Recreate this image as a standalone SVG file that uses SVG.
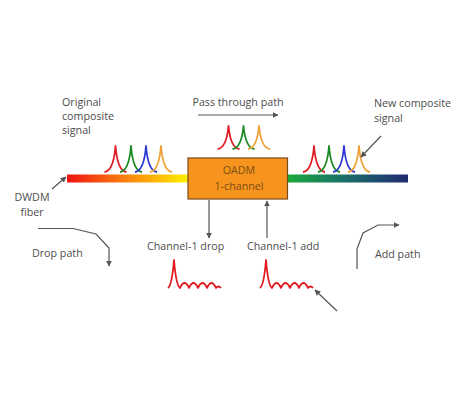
<svg xmlns="http://www.w3.org/2000/svg" width="464" height="400" viewBox="0 0 464 400">
<style>
text{font-family:"Open Sans","Liberation Sans",sans-serif;font-size:10.7px;fill:#4d4d4d}
.box-t{fill:#7d4c14;text-anchor:middle}
.ln{fill:none;stroke:#555;stroke-width:1.2}
.pk{fill:none;stroke-width:1.8;stroke-linejoin:round}
.r{stroke:#e01b22}.g{stroke:#1c8a22}.b{stroke:#2b3bd2}.o{stroke:#eea236}
</style>
<defs>
<marker id="ah" viewBox="0 0 10 10" refX="9" refY="5" markerWidth="6" markerHeight="6" markerUnits="userSpaceOnUse" orient="auto">
<path d="M0,0 L10,5 L0,10 z" fill="#555"/>
</marker>
<linearGradient id="gl" x1="0" x2="1" y1="0" y2="0">
<stop offset="0" stop-color="#ee1111"/>
<stop offset="0.45" stop-color="#fa7a10"/>
<stop offset="1" stop-color="#fff000"/>
</linearGradient>
<linearGradient id="gr" x1="0" x2="1" y1="0" y2="0">
<stop offset="0" stop-color="#1aaa3a"/>
<stop offset="0.45" stop-color="#1a7268"/>
<stop offset="1" stop-color="#202a70"/>
</linearGradient>
<path id="pk" d="M-11,0 Q-2,-1 0,-26 Q2,-1 11,0"/>
<path id="pks" d="M-11,0 Q-2,-1 0,-23 Q2,-1 11,0"/>
<path id="sig" d="M0,28 Q4,25 6,0 Q8,25 12,28 Q16.5,18 21,28 Q25.5,18 30,28 Q34.5,18 39,28 Q43.5,18 48,28 Q50.5,25 53,28"/>
</defs>

<g id="fiber-left"><rect x="67" y="174.5" width="121" height="8" fill="url(#gl)"/></g>
<g id="fiber-right"><rect x="287" y="174.5" width="121" height="8" fill="url(#gr)"/></g>

<g id="original-signal">
<use href="#pk" x="115.5" y="172" class="pk r"/>
<use href="#pk" x="131" y="172" class="pk g"/>
<use href="#pk" x="146" y="172" class="pk b"/>
<use href="#pk" x="161" y="172" class="pk o"/>
</g>
<g id="new-signal">
<use href="#pk" x="314" y="172" class="pk r"/>
<use href="#pk" x="329" y="172" class="pk g"/>
<use href="#pk" x="344" y="172" class="pk b"/>
<use href="#pk" x="359" y="172" class="pk o"/>
</g>
<g id="pass-signal">
<use href="#pks" x="228.5" y="149" class="pk r"/>
<use href="#pks" x="243.5" y="149" class="pk g"/>
<use href="#pks" x="259" y="149" class="pk o"/>
</g>

<g id="oadm">
<rect x="188" y="158" width="99.5" height="41" fill="#f7941d" stroke="#7a4a1a" stroke-width="1.2"/>
<text class="box-t" x="239" y="174">OADM</text>
<text class="box-t" x="239" y="190">1-channel</text>
</g>

<g id="drop-signal"><use href="#sig" x="168" y="260" class="pk r" stroke-width="1.5"/></g>
<g id="add-signal"><use href="#sig" x="260" y="260" class="pk r" stroke-width="1.5"/></g>

<g id="connectors">
<path class="ln" d="M198,115 H278" marker-end="url(#ah)"/>
<path class="ln" d="M52,189 L66,177" marker-end="url(#ah)"/>
<path class="ln" d="M381,136 L361,157" marker-end="url(#ah)"/>
<path class="ln" d="M209,200 V238" marker-end="url(#ah)"/>
<path class="ln" d="M267,238 V201" marker-end="url(#ah)"/>
<path class="ln" d="M38,228.5 H73 L96,234 L109,248 V266" marker-end="url(#ah)"/>
<path class="ln" d="M357,269 V249 L363,233 L378,225 H399" marker-end="url(#ah)"/>
<path class="ln" d="M337,311 L315,290" marker-end="url(#ah)"/>
</g>

<g id="labels">
<text x="62" y="106">Original</text>
<text x="62" y="120">composite</text>
<text x="62" y="134">signal</text>
<text x="238" y="106" text-anchor="middle">Pass through path</text>
<text x="374" y="107">New composite</text>
<text x="374" y="122">signal</text>
<text x="32" y="201" text-anchor="middle">DWDM</text>
<text x="32" y="216" text-anchor="middle">fiber</text>
<text x="32" y="257">Drop path</text>
<text x="147" y="250">Channel-1 drop</text>
<text x="247" y="250">Channel-1 add</text>
<text x="375" y="258">Add path</text>
</g>
</svg>
